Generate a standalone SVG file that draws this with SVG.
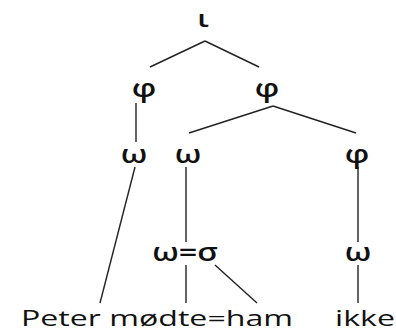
<svg xmlns="http://www.w3.org/2000/svg" width="396" height="334" viewBox="0 0 396 334">
<style>
text{font-family:"Open Sans","Liberation Sans",sans-serif;font-size:22px;fill:#111;text-anchor:middle}
text.g{font-size:26px;font-weight:600}
.e line{stroke:#222;stroke-width:1.4;fill:none}
</style>
<rect width="396" height="334" fill="#fff"/>
<g class="e" id="connectors">
<line x1="205" y1="41" x2="150" y2="67"/>
<line x1="205" y1="41" x2="259" y2="67"/>
<line x1="136" y1="103" x2="136" y2="142"/>
<line x1="273" y1="106" x2="189" y2="133"/>
<line x1="273" y1="106" x2="356" y2="133"/>
<line x1="135" y1="167" x2="100" y2="303"/>
<line x1="186" y1="167" x2="186" y2="242"/>
<line x1="358" y1="167" x2="358" y2="242"/>
<line x1="186" y1="265" x2="186" y2="303"/>
<line x1="215" y1="265" x2="257" y2="303"/>
<line x1="358" y1="265" x2="358" y2="303"/>
</g>
<g id="iota" transform="translate(203,27) scale(1.3,1)"><text class="g" x="0" y="0" style="font-size:24px">ι</text></g>
<g id="phi1" transform="translate(144,97) scale(1.25,1)"><text class="g" x="0" y="0">φ</text></g>
<g id="phi2" transform="translate(267,97) scale(1.25,1)"><text class="g" x="0" y="0">φ</text></g>
<g id="omega1" transform="translate(134,163) scale(1.25,1)"><text class="g" x="0" y="0">ω</text></g>
<g id="omega2" transform="translate(188,163) scale(1.25,1)"><text class="g" x="0" y="0">ω</text></g>
<g id="phi3" transform="translate(357,163) scale(1.25,1)"><text class="g" x="0" y="0">φ</text></g>
<g id="omegasigma" transform="translate(185,261) scale(1.25,1)"><text class="g" x="0" y="0">ω=σ</text></g>
<g id="omega3" transform="translate(358,261) scale(1.25,1)"><text class="g" x="0" y="0">ω</text></g>
<g id="words1" transform="translate(157,326) scale(1.46,1)"><text x="0" y="0">Peter mødte=ham</text></g>
<g id="words2" transform="translate(365,326) scale(1.46,1)"><text x="0" y="0">ikke</text></g>
</svg>
